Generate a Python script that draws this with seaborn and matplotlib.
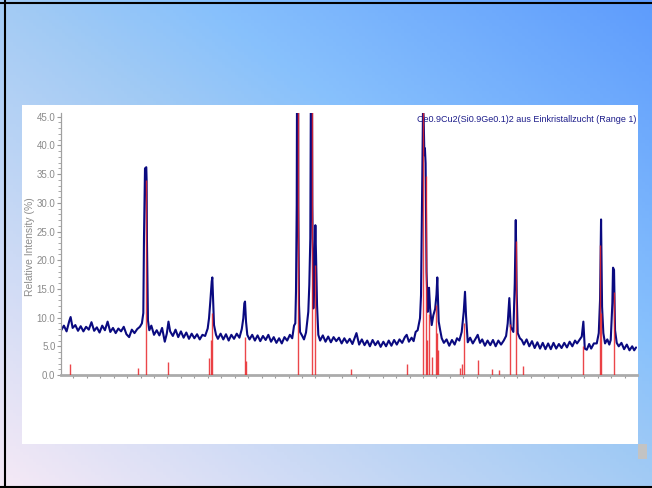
import numpy as np
import matplotlib
matplotlib.use("Agg")
import matplotlib.pyplot as plt
from matplotlib.colors import LinearSegmentedColormap
from matplotlib.patches import Rectangle
from matplotlib.ticker import MultipleLocator, FormatStrFormatter
import seaborn as sns

# measured scan (2theta in deg, relative intensity in %)
scan_2theta = [
    8.2, 8.6, 9.0, 9.4, 9.6, 9.9, 10.3, 10.7, 11.1, 11.5, 11.9, 12.3, 12.7, 13.1,
    13.5, 13.9, 14.3, 14.7, 15.1, 15.5, 15.9, 16.3, 16.7, 17.1, 17.5, 17.9, 18.3,
    18.7, 19.1, 19.5, 19.9, 20.2, 20.41, 20.51, 20.66, 20.85, 20.9, 20.95, 21.1,
    21.3, 21.6, 22.0, 22.4, 22.8, 23.2, 23.6, 23.9, 24.15, 24.4, 24.8, 25.2, 25.6,
    26.0, 26.4, 26.8, 27.2, 27.6, 28.0, 28.4, 28.8, 29.2, 29.6, 29.98, 30.18,
    30.37, 30.58, 30.67, 30.82, 30.92, 31.22, 31.5, 31.9, 32.3, 32.7, 33.1, 33.5,
    33.9, 34.3, 34.7, 35.05, 35.28, 35.43, 35.53, 35.68, 35.87, 36.2, 36.6, 37.0,
    37.4, 37.8, 38.2, 38.6, 39.0, 39.4, 39.8, 40.2, 40.6, 41.0, 41.4, 41.8, 42.2,
    42.55, 42.82, 43.01, 43.11, 43.22, 43.37, 43.46, 43.56, 43.71, 44.0, 44.3,
    44.6, 44.94, 45.09, 45.24, 45.42, 45.54, 45.69, 45.84, 45.99, 46.09, 46.24,
    46.43, 46.7, 47.1, 47.5, 47.9, 48.3, 48.7, 49.1, 49.5, 49.9, 50.3, 50.7, 51.1,
    51.5, 52.1, 52.5, 52.9, 53.3, 53.7, 54.1, 54.5, 54.9, 55.3, 55.7, 56.1, 56.5,
    56.9, 57.3, 57.7, 58.1, 58.5, 58.9, 59.3, 59.57, 59.9, 60.3, 60.6, 60.9, 61.2,
    61.4, 61.55, 61.7, 61.85, 62.0, 62.09, 62.2, 62.28, 62.38, 62.52, 62.7, 62.89,
    63.04, 63.29, 63.53, 63.8, 64.0, 64.12, 64.33, 64.55, 64.78, 65.1, 65.5, 65.9,
    66.3, 66.7, 67.05, 67.4, 67.75, 68.05, 68.24, 68.39, 68.65, 69.0, 69.4, 69.8,
    70.13, 70.47, 70.8, 71.2, 71.6, 72.0, 72.4, 72.8, 73.2, 73.6, 74.0, 74.35,
    74.59, 74.83, 75.04, 75.25, 75.43, 75.64, 75.79, 75.93, 76.08, 76.4, 76.68,
    77.0, 77.4, 77.8, 78.2, 78.6, 79.0, 79.4, 79.8, 80.2, 80.6, 81.0, 81.4, 81.8,
    82.2, 82.6, 83.0, 83.4, 83.8, 84.2, 84.6, 84.9, 85.3, 85.6, 85.84, 86.05,
    86.35, 86.7, 87.0, 87.4, 87.83, 88.13, 88.32, 88.47, 88.62, 88.81, 89.06,
    89.4, 89.7, 89.91, 90.15, 90.25, 90.4, 90.55, 90.8, 91.1, 91.5, 91.9, 92.3,
    92.7, 93.1, 93.4, 93.67,
]
scan_intensity = [
    7.8, 8.6, 7.6, 9.4, 10.1, 8.2, 8.7, 7.7, 8.5, 7.6, 8.4, 7.9, 9.2, 7.7,
    8.3, 7.4, 8.6, 7.8, 9.3, 7.5, 8.2, 7.3, 8.1, 7.6, 8.4, 7.1, 6.6,
    7.9, 7.3, 8.0, 8.4, 9.0, 10.8, 24.0, 36.0, 36.2, 34.0, 23.5, 9.5,
    7.8, 8.6, 7.0, 7.8, 6.9, 8.2, 5.8, 7.2, 9.3, 7.6, 6.8, 7.9, 6.6,
    7.6, 6.5, 7.4, 6.3, 7.2, 6.4, 7.1, 6.2, 7.0, 6.8, 8.1, 9.9,
    12.8, 16.3, 17.0, 12.2, 8.7, 7.0, 6.3, 7.2, 6.2, 7.1, 6.0, 7.0,
    6.3, 7.2, 6.5, 8.0, 9.9, 12.5, 12.8, 9.3, 7.0, 6.2, 7.0, 6.0,
    6.9, 5.9, 6.8, 6.1, 7.0, 5.8, 6.6, 5.6, 6.4, 5.5, 6.6, 6.0, 7.0,
    6.4, 8.6, 9.0, 14.5, 29.6, 100.0, 29.6, 12.2, 7.5, 6.9, 6.2,
    7.4, 11.0, 15.7, 23.8, 80.0, 29.6, 11.6, 18.0, 26.1, 20.9, 12.2,
    7.0, 6.0, 6.9, 5.8, 6.7, 5.7, 6.6, 5.9, 6.5, 5.5, 6.4, 5.6, 6.3,
    5.4, 7.3, 5.3, 6.2, 5.2, 6.0, 5.0, 6.1, 5.2, 5.9, 4.9, 5.8, 5.0,
    6.0, 5.1, 6.1, 5.3, 6.2, 5.6, 6.6, 7.0, 5.8, 6.5, 5.9, 7.5, 7.8,
    9.0, 9.9, 13.9, 29.6, 46.5, 45.0, 38.3, 39.5, 36.9, 18.0, 11.0, 15.2,
    11.7, 8.7, 10.4, 11.5, 14.0, 17.0, 9.3, 7.8, 6.4, 5.6, 6.2, 5.1,
    6.1, 5.3, 6.4, 6.0, 7.5, 11.0, 14.5, 10.4, 5.7, 6.5, 5.5, 6.3,
    7.0, 5.6, 6.2, 5.1, 6.0, 5.2, 6.1, 5.0, 6.0, 5.3, 6.0, 6.8,
    9.0, 13.4, 8.4, 7.9, 7.5, 16.0, 27.0, 14.2, 7.3, 6.4, 6.1,
    5.3, 6.2, 5.0, 5.9, 4.7, 5.7, 4.6, 5.6, 4.5, 5.5, 4.5, 5.6, 4.6,
    5.4, 4.7, 5.6, 4.8, 5.8, 5.0, 6.0, 5.5, 6.2, 6.7, 9.3, 4.6,
    4.4, 5.4, 4.6, 5.5, 5.5, 7.3, 13.1, 27.1, 11.9, 7.3, 5.5,
    6.2, 5.3, 6.1, 12.5, 18.7, 18.3, 7.8, 5.6, 5.0, 5.6, 4.5, 5.3,
    4.3, 5.0, 4.3, 4.8,
]

# reference pattern sticks
stick_2theta = [
    9.55, 19.66, 20.76, 24.13, 30.21, 30.47, 30.67, 35.53, 35.71, 43.37, 45.46,
    45.99, 51.34, 59.59, 62.04, 62.40, 62.64, 62.94, 63.38, 63.89, 64.08, 64.27,
    67.55, 67.75, 68.14, 70.13, 72.21, 73.35, 74.91, 75.81, 76.87, 85.84, 88.36,
    88.51, 90.33,
]
stick_intensity = [
    1.9, 1.2, 34.0, 2.3, 3.0, 6.1, 10.8, 6.6, 2.4, 100.0, 92.0,
    19.2, 1.0, 2.0, 85.0, 34.7, 6.1, 10.7, 3.1, 12.2, 7.3, 4.4,
    1.2, 2.0, 9.0, 2.7, 1.0, 0.8, 8.9, 23.3, 1.6, 5.0, 22.6,
    10.8, 14.4,
]

y_ticks = [0, 5, 10, 15, 20, 25, 30, 35, 40, 45]
title_text = "Ce0.9Cu2(Si0.9Ge0.1)2 aus Einkristallzucht (Range 1)"
y_label = "Relative Intensity (%)"

sns.set_style("white")
plt.rcParams['font.family'] = ['Liberation Sans', 'DejaVu Sans']

W, H = 652, 488
fig = plt.figure(figsize=(W / 100, H / 100), dpi=100)

# slide background
bg = fig.add_axes([0, 0, 1, 1])
gx, gy = np.meshgrid(np.linspace(0, 1, 200), np.linspace(1, 0, 150))
grad = (gx + gy) / 2
cmap = LinearSegmentedColormap.from_list(
    "slide", [(0, "#f5e9f6"), (0.5, "#a3cbf4"), (0.65, "#88c1fc"), (1, "#5e9cfd")])
bg.imshow(grad, extent=[0, 1, 0, 1], aspect='auto', cmap=cmap, origin='upper')
bg.set_xlim(0, 1)
bg.set_ylim(0, 1)
bg.axis('off')
bg.add_patch(Rectangle((22 / W, 1 - 444 / H), (638 - 22) / W, (444 - 105) / H,
                       facecolor='white', edgecolor='none'))
bg.add_patch(Rectangle((638 / W, 1 - 459 / H), 9 / W, 15 / H,
                       facecolor='#c3c3c3', edgecolor='none'))
bg.plot([5 / W, 5 / W], [0, 1], color='black', lw=1.5)
bg.plot([0, 1], [1 - 3 / H, 1 - 3 / H], color='black', lw=1.5)
bg.plot([0, 1], [1 - 487 / H, 1 - 487 / H], color='black', lw=1.5)

# chart
ax = fig.add_axes([61 / W, 1 - 375 / H, (636.7 - 61) / W, (375 - 112.7) / H])
ax.set_facecolor('white')
ax.vlines(stick_2theta, 0, stick_intensity, colors='#e8262a', lw=1.0, alpha=0.85, zorder=3)
sns.lineplot(x=scan_2theta, y=scan_intensity, sort=False, estimator=None,
             color='#0a0a80', lw=1.5, ax=ax, zorder=2)

ax.set_xlim(8.17, 93.77)
ax.set_ylim(0, 45.7)
ax.set_xticks(np.arange(10, 93, 2))
ax.set_xticklabels([])
ax.set_yticks(y_ticks)
ax.yaxis.set_major_formatter(FormatStrFormatter('%.1f'))
ax.yaxis.set_minor_locator(MultipleLocator(1))
ax.tick_params(axis='y', which='major', length=3, width=0.8, color='#9a9a9a',
               labelcolor='#8a8a8a', labelsize=7, pad=1, left=True)
ax.tick_params(axis='y', which='minor', length=2, width=0.6, color='#9a9a9a', left=True)
ax.tick_params(axis='x', which='major', length=2.5, width=0.8, color='#9a9a9a', bottom=True)

for s in ['top', 'right']:
    ax.spines[s].set_visible(False)
ax.spines['left'].set_color('#a0a0a0')
ax.spines['left'].set_linewidth(0.9)
ax.spines['bottom'].set_color('#ababab')
ax.spines['bottom'].set_linewidth(2)

ax.set_xlabel('')
ax.set_ylabel(y_label, fontsize=7.5, color='#8c8c8c')
ax.yaxis.set_label_coords(-0.045, 0.49)

fig.text(636 / W, 1 - 119 / H, title_text, ha='right', va='center', fontsize=6.5,
         color='#1c1c8a', family=['Liberation Sans Narrow', 'Liberation Sans', 'DejaVu Sans'])

fig.savefig("out.png", dpi=100)
